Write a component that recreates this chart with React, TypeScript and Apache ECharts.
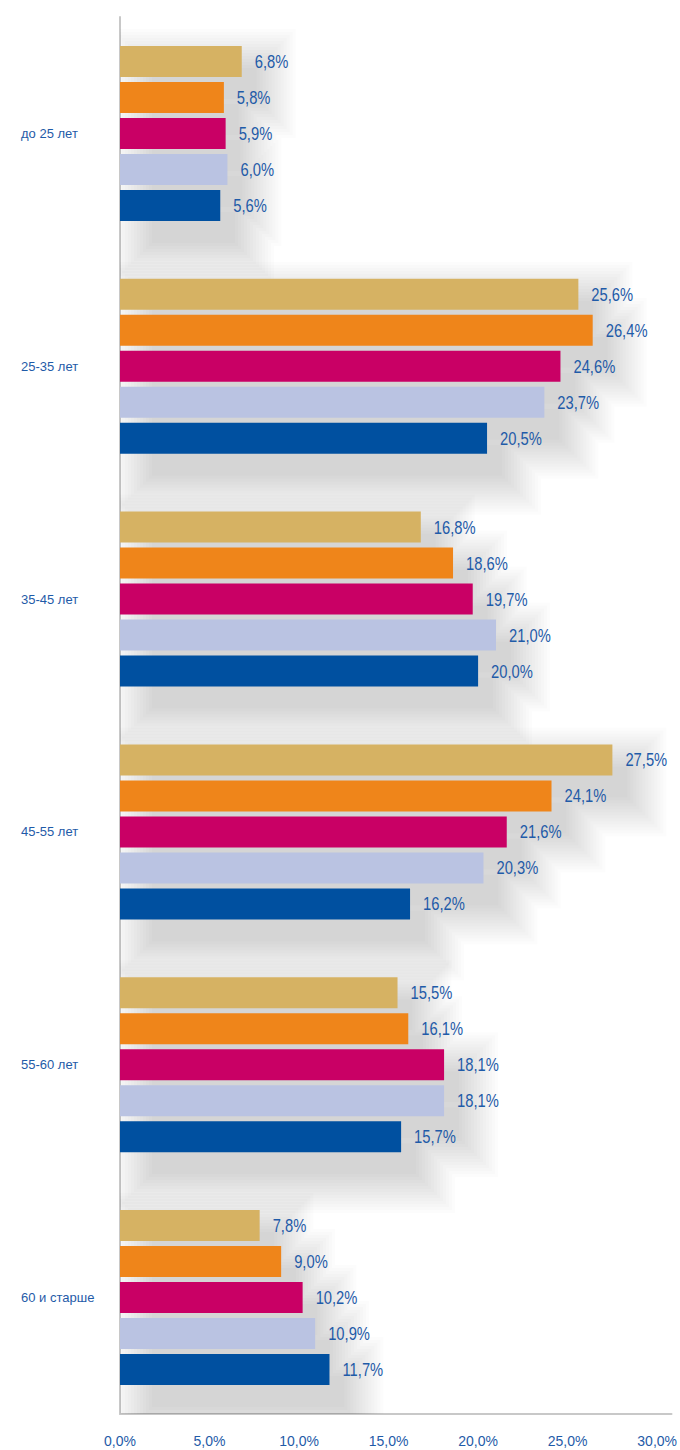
import React, { useEffect, useRef } from "react";
import * as echarts from "echarts";

const categories = ["до 25 лет", "25-35 лет", "35-45 лет", "45-55 лет", "55-60 лет", "60 и старше"];
const series1 = [6.8, 25.6, 16.8, 27.5, 15.5, 7.8];
const series2 = [5.8, 26.4, 18.6, 24.1, 16.1, 9.0];
const series3 = [5.9, 24.6, 19.7, 21.6, 18.1, 10.2];
const series4 = [6.0, 23.7, 21.0, 20.3, 18.1, 10.9];
const series5 = [5.6, 20.5, 20.0, 16.2, 15.7, 11.7];
const seriesNames = ["Ряд 1", "Ряд 2", "Ряд 3", "Ряд 4", "Ряд 5"];
const seriesColors = ["#D6B263", "#EF851A", "#C90065", "#BAC3E2", "#0050A0"];
const xTicks = { min: 0, max: 30.8, interval: 5 };

const FONT = "'Liberation Sans', Arial, sans-serif";
const BLUE = "#1F5BA8";
const BAR_W = 31;
const GAP = 5;

const fmt = (v: number) => v.toFixed(1).replace(".", ",") + "%";

export default function App() {
  const ref = useRef<HTMLDivElement>(null);
  useEffect(() => {
    if (!ref.current) return;
    const chart = echarts.init(ref.current, null, { renderer: "svg" });
    const all = [series1, series2, series3, series4, series5];
    const n = all.length;
    const groupH = n * BAR_W + (n - 1) * GAP;
    const barTop = (center: number, k: number) => center - groupH / 2 + k * (BAR_W + GAP);

    const main = all.map((d, i) => ({
      name: seriesNames[i],
      type: "bar",
      z: 3,
      data: d,
      barWidth: BAR_W,
      barGap: (GAP / BAR_W) * 100 + "%",
      itemStyle: { color: seriesColors[i] },
    }));

    // soft shadow under each group of bars
    const shadowData = categories.map((_, ci) => [ci, ...all.map((s) => s[ci])]);
    const shadowSeries = {
      type: "custom",
      name: "shadow",
      z: 1,
      silent: true,
      clip: true,
      encode: { y: 0, x: 1 },
      data: shadowData,
      renderItem: (params: any, api: any) => {
        const ci = api.value(0);
        const base = api.coord([0, ci]);
        const x0 = base[0];
        const center = base[1];
        const dx = 15;
        const dy = 22;
        const inset = 32;
        const rects = all.map((s, k) => {
          const end = api.coord([s[ci], ci])[0];
          const top = barTop(center, k);
          return { x1: x0 + inset, x2: Math.max(end + dx, x0 + inset), y1: top + dy, y2: top + dy + BAR_W };
        });
        const children: any[] = [];
        const layers = 14;
        for (let j = 0; j < layers; j++) {
          const e = j * 3;
          const ex = rects.map((r) => ({ x1: r.x1 - e, x2: r.x2 + e, y1: r.y1 - e, y2: r.y2 + e }));
          const ys = Array.from(new Set(ex.flatMap((r) => [r.y1, r.y2]))).sort((a, b) => a - b);
          const pts: number[][] = [];
          const left = ex[0].x1;
          pts.push([left, ys[0]]);
          for (let t = 0; t < ys.length - 1; t++) {
            const ya = ys[t];
            const yb = ys[t + 1];
            const mid = (ya + yb) / 2;
            let right = left;
            ex.forEach((r) => {
              if (mid >= r.y1 && mid <= r.y2) right = Math.max(right, r.x2);
            });
            pts.push([right, ya]);
            pts.push([right, yb]);
          }
          pts.push([left, ys[ys.length - 1]]);
          children.push({
            type: "polygon",
            shape: { points: pts },
            style: { fill: "rgba(0,0,0,0.013)" },
          });
        }
        return { type: "group", children };
      },
    };

    // value labels (condensed, like the original)
    const labelData: number[][] = [];
    all.forEach((s, k) => s.forEach((v, ci) => labelData.push([v, ci, k])));
    const labelSeries = {
      type: "custom",
      name: "labels",
      z: 5,
      silent: true,
      encode: { x: 0, y: 1 },
      data: labelData,
      renderItem: (params: any, api: any) => {
        const v = api.value(0);
        const ci = api.value(1);
        const k = api.value(2);
        const pt = api.coord([v, ci]);
        const y = barTop(pt[1], k) + BAR_W / 2;
        return {
          type: "text",
          x: pt[0] + 13,
          y: y,
          scaleX: 0.82,
          style: {
            text: fmt(v),
            fill: BLUE,
            fontSize: 18,
            fontFamily: FONT,
            align: "left",
            verticalAlign: "middle",
          },
        };
      },
    };

    chart.setOption({
      animation: false,
      grid: { left: 120, right: 3, top: 17, bottom: 36, containLabel: false },
      xAxis: {
        type: "value",
        min: xTicks.min,
        max: xTicks.max,
        interval: xTicks.interval,
        splitLine: { show: false },
        axisTick: { show: false },
        axisLine: { show: true, lineStyle: { color: "#C8C8C8", width: 2 } },
        axisLabel: {
          color: BLUE,
          fontFamily: FONT,
          fontSize: 14,
          margin: 20,
          showMaxLabel: false,
          formatter: (v: number) => fmt(v),
        },
      },
      yAxis: {
        type: "category",
        data: categories,
        inverse: true,
        axisTick: { show: false },
        axisLine: { show: true, lineStyle: { color: "#C8C8C8", width: 2 } },
        axisLabel: {
          color: BLUE,
          fontFamily: FONT,
          fontSize: 13,
          align: "left",
          margin: 99,
        },
      },
      series: [shadowSeries, ...main, labelSeries],
    });
    return () => chart.dispose();
  }, []);
  return (
    <div
      ref={ref}
      style={{ position: "absolute", left: 0, top: 0, width: 680, height: 1450, background: "#fff" }}
    />
  );
}
